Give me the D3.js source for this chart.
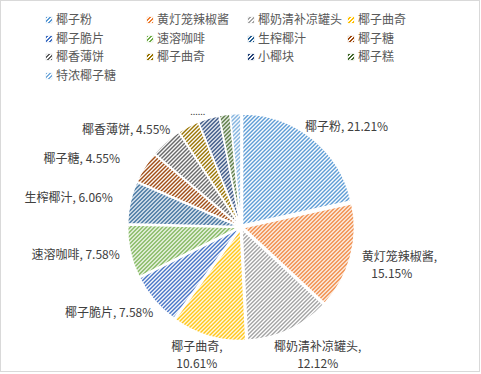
<!DOCTYPE html>
<html><head><meta charset="utf-8">
<script src="https://cdn.jsdelivr.net/npm/d3@7/dist/d3.min.js"></script>
<style>body{margin:0;background:#fff}svg{display:block}text{font-family:"Noto Sans CJK SC","Microsoft YaHei",sans-serif}</style>
</head><body><svg id="c" width="481" height="374"></svg>
<script>
const categories = ["椰子粉","黄灯笼辣椒酱","椰奶清补凉罐头","椰子曲奇","椰子脆片","速溶咖啡","生榨椰汁","椰子糖","椰香薄饼","椰子曲奇","小椰块","椰子糕","特浓椰子糖"];
const values = [21.21,15.15,12.12,10.61,7.58,7.58,6.06,4.55,4.55,3.03,3.03,1.52,1.52];
const colors = ["#5B9BD5","#ED7D31","#A5A5A5","#FFC000","#4472C4","#70AD47","#255E91","#9E480E","#636363","#997300","#264478","#43682B","#7CAFDD"];

const svg = d3.select("#c");
svg.append("rect").attr("x",0.5).attr("y",0.5).attr("width",479).attr("height",371)
  .attr("fill","#fff").attr("stroke","#d9d9d9");

const defs = svg.append("defs");
colors.forEach((c,i)=>{
  const p = defs.append("pattern").attr("id","p"+i).attr("patternUnits","userSpaceOnUse")
    .attr("width",4).attr("height",4);
  p.append("rect").attr("width",4).attr("height",4).attr("fill","#fff");
  const cells = [[2,0],[3,0],[1,1],[2,1],[0,2],[1,2],[3,3],[0,3]];
  cells.forEach(([x,y])=>p.append("rect").attr("x",x).attr("y",y).attr("width",1).attr("height",1)
    .attr("fill",c).attr("shape-rendering","crispEdges"));
});

const cx = 241, cy = 227, r = 111;
const pie = d3.pie().sort(null).value(d=>d)(values);
const arc = d3.arc().innerRadius(0).outerRadius(r);
const g = svg.append("g").attr("transform",`translate(${cx},${cy})`);
const explode = 2.5;
g.selectAll("path").data(pie).join("path")
  .attr("d",arc)
  .attr("transform",d=>{const a=(d.startAngle+d.endAngle)/2;return `translate(${explode*Math.sin(a)},${-explode*Math.cos(a)})`;})
  .attr("fill",(d,i)=>`url(#p${i})`)
  .attr("stroke","#fff").attr("stroke-width",1.5).attr("stroke-linejoin","round");

// labels
const fmt = v => v.toFixed(2)+"%";
const nudges = [
  {dx:-11,dy:-7,anchor:"start",lines:1},
  {dx:5,dy:-2,anchor:"start",lines:2},
  {dx:26,dy:11,anchor:"middle",lines:2},
  {dx:-10,dy:5,anchor:"middle",lines:2},
  {dx:4,dy:8,anchor:"end",lines:1},
  {dx:-4,dy:2,anchor:"end",lines:1},
  {dx:-11,dy:-3,anchor:"end",lines:1},
  {dx:-19,dy:-5,anchor:"end",lines:1},
  {dx:9,dy:-7,anchor:"end",lines:1},
];
const lr = r + 9;
nudges.forEach((n,i)=>{
  const d = pie[i], a=(d.startAngle+d.endAngle)/2;
  const x = cx + lr*Math.sin(a) + n.dx, y = cy - lr*Math.cos(a) + n.dy;
  const t = svg.append("text").attr("text-anchor",n.anchor).attr("font-size",12).attr("fill","#404040");
  if(n.lines===1){
    t.append("tspan").attr("x",x).attr("y",y).attr("dy","0.35em").text(categories[i]+", "+fmt(values[i]));
  } else if(n.anchor==="start"){
    t.append("tspan").attr("x",x).attr("y",y).attr("dy","0.35em").text(categories[i]+",");
    svg.append("text").attr("text-anchor","middle").attr("font-size",12).attr("fill","#404040")
      .attr("x",x+30).attr("y",y+17).attr("dy","0.35em").text(fmt(values[i]));
  } else {
    t.append("tspan").attr("x",x).attr("y",y).attr("dy","0.35em").text(categories[i]+",");
    t.append("tspan").attr("x",x).attr("y",y+17).attr("dy","0.35em").text(fmt(values[i]));
  }
});
// truncated label of slice 10
{
  const d = pie[9], a=(d.startAngle+d.endAngle)/2;
  const x = cx + (r+12)*Math.sin(a), y = cy - (r+12)*Math.cos(a);
  svg.append("text").attr("x",x+14).attr("y",y-3).attr("text-anchor","middle").attr("font-size",9)
    .attr("fill","#404040").text("......");
}

// legend
const colX = [46,147,248,348], rowY = [20,38.5,57,75.5];
categories.forEach((c,i)=>{
  const x = colX[i%4], y = rowY[Math.floor(i/4)];
  svg.append("rect").attr("x",x).attr("y",Math.round(y-3)).attr("width",6).attr("height",6)
    .attr("fill",`url(#p${i})`).attr("stroke",colors[i]).attr("stroke-opacity",0.35).attr("stroke-width",0.5);
  svg.append("text").attr("x",x+10).attr("y",y).attr("dy","0.35em").attr("font-size",12).attr("fill","#595959").text(c);
});
</script></body></html>
